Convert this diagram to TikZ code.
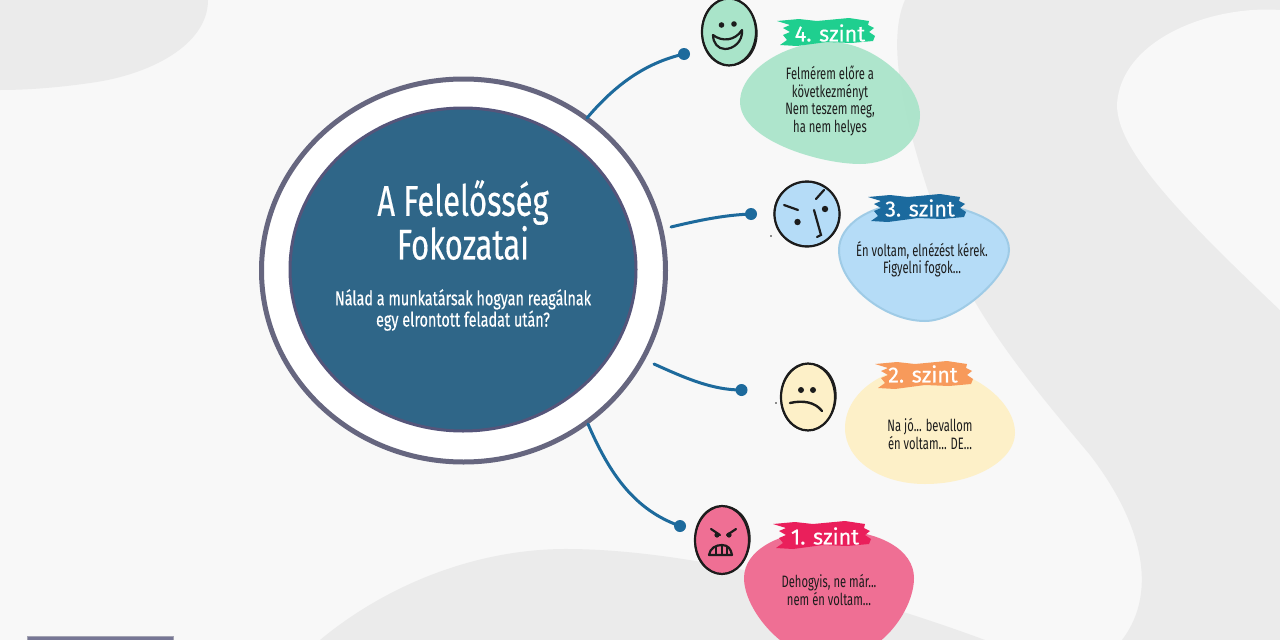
\documentclass[tikz,border=0pt]{standalone}
\usepackage{fontspec}
\usetikzlibrary{shapes.geometric}
\setmainfont{Fira Sans}
\newfontfamily\narrowf[FakeStretch=0.68]{Fira Sans}
\newfontfamily\titlef[FakeStretch=0.72,FakeBold=0.3]{Fira Sans}
\newfontfamily\labelf[FakeStretch=0.98,FakeBold=0.5]{Fira Sans}
\definecolor{bgc}{HTML}{F8F8F8}
\definecolor{blob}{HTML}{EBEBEB}
\definecolor{ringc}{HTML}{66667F}
\definecolor{discc}{HTML}{2F6688}
\definecolor{discl}{HTML}{55557A}
\definecolor{linkc}{HTML}{1D6A9C}
\definecolor{greenb}{HTML}{A9E4C9}
\definecolor{greenl}{HTML}{1FCF8F}
\definecolor{blueb}{HTML}{B5DCF7}
\definecolor{bluee}{HTML}{9FCBE6}
\definecolor{bluel}{HTML}{1B6A9E}
\definecolor{yellb}{HTML}{FDF0C8}
\definecolor{orangel}{HTML}{F79A5B}
\definecolor{pinkb}{HTML}{EF6F94}
\definecolor{redl}{HTML}{EA1F5B}
\definecolor{inkc}{HTML}{1C1C1C}
\tikzset{
  ringshape/.style={draw=ringc,line width=5pt,fill=white,ellipse,minimum width=404pt,minimum height=383pt,inner sep=0pt},
  discshape/.style={draw=discl,line width=3pt,fill=discc,ellipse,minimum width=346pt,minimum height=323pt,inner sep=0pt},
  titletext/.style={text=white,align=center,font=\titlef\fontsize{43}{39}\selectfont},
  subtext/.style={text=white,align=center,font=\titlef\fontsize{20}{18.5}\selectfont},
  bodytext/.style={text=inkc,align=center,font=\narrowf\fontsize{16.5}{17.5}\selectfont},
  leveltext/.style={text=white,font=\labelf\fontsize{22}{24}\selectfont},
  dotnode/.style={circle,fill=linkc,minimum size=12pt,inner sep=0pt},
  linkline/.style={draw=linkc,line width=3pt,line cap=round},
  facenode/.style={draw=inkc,line width=2.2pt,ellipse,inner sep=0pt},
  sketchline/.style={draw=inkc,line width=1.2pt},
  ink/.style={draw=inkc,line width=2.2pt,line cap=round},
}
\newcommand{\brushat}[3]{% x,y (top-left),colour
  \fill[#3,shift={(#1,#2)}] (0,3) -- (22,1) -- (40,3) -- (72,0) -- (92,3) -- (91,7) -- (97,10) -- (92,14) -- (98,18) -- (96,23) -- (74,25) -- (50,24) -- (20,28) -- (3,27) -- (10,22) -- (6,17) -- (13,14) -- (6,10) -- (13,7) -- cycle;}
\begin{document}
\begin{tikzpicture}[x=1pt,y=-1pt]
\useasboundingbox (0,0) rectangle (1280,640);
\clip (0,0) rectangle (1280,640);
\fill[bgc] (0,0) rectangle (1280,640);
% background blobs
\fill[blob] (0,0) -- (208,0) .. controls (208,45) and (150,75) .. (90,83) .. controls (55,88) and (25,90) .. (0,90) -- cycle;
\fill[blob] (905,0) .. controls (885,45) and (905,130) .. (945,240) .. controls (975,320) and (1040,395) .. (1090,455) .. controls (1140,520) and (1160,590) .. (1122,640) -- (1280,640) -- (1280,0) -- cycle;
\fill[bgc] (1280,10) .. controls (1210,5) and (1120,40) .. (1117,105) .. controls (1117,150) and (1180,215) .. (1280,310) -- cycle;
\fill[blob] (320,640) .. controls (380,590) and (470,548) .. (570,549) .. controls (690,550) and (850,590) .. (985,640) -- cycle;
% circle
\node[ringshape] (ring) at (463.5,270.5) {};
\node[discshape] (disc) at (463,269.5) {};
\node[titletext] (title) at (463,220) {A Felelősség\\Fokozatai};
\node[subtext] (sub) at (463,310) {Nálad a munkatársak hogyan reagálnak\\egy elrontott feladat után?};
% bubbles
\fill[greenb,fill opacity=0.93] (740,100) .. controls (742,70) and (785,42) .. (830,42) .. controls (875,42) and (920,85) .. (920,115) .. controls (920,145) and (890,164) .. (860,164) .. controls (820,164) and (738,140) .. (740,100) -- cycle;
\filldraw[fill=blueb,draw=bluee,line width=2pt] (839,250) .. controls (839,225) and (870,203) .. (915,203) .. controls (960,203) and (1009,220) .. (1009,250) .. controls (1009,275) and (960,321) .. (925,321) .. controls (885,321) and (839,285) .. (839,250) -- cycle;
\fill[yellb] (845,428) .. controls (845,395) and (880,367) .. (925,367) .. controls (970,367) and (1015,400) .. (1015,433) .. controls (1015,460) and (975,484) .. (925,484) .. controls (880,484) and (845,460) .. (845,428) -- cycle;
\fill[pinkb] (744,578) .. controls (744,550) and (780,530) .. (830,530) .. controls (880,530) and (914,550) .. (914,578) .. controls (914,610) and (880,660) .. (830,660) .. controls (785,660) and (744,610) .. (744,578) -- cycle;
% brush labels
\brushat{777}{18}{greenl}
\brushat{868}{194}{bluel}
\brushat{875}{361}{orangel}
\brushat{773}{521}{redl}
\node[leveltext] (l4) at (830,33) {4. szint};
\node[leveltext] (l3) at (920,208) {3. szint};
\node[leveltext] (l2) at (923,374) {2. szint};
\node[leveltext] (l1) at (825,536) {1. szint};
% bubble texts
\node[bodytext] (t4) at (830,101) {Felmérem előre a\\következményt\\Nem teszem meg,\\ha nem helyes};
\node[bodytext] (t3) at (922,259) {Én voltam, elnézést kérek.\\Figyelni fogok...};
\node[bodytext] (t2) at (930,434) {Na jó... bevallom\\én voltam... DE...};
\node[bodytext] (t1) at (829,590) {Dehogyis, ne már...\\nem én voltam...};
% faces
\node[facenode,fill=greenb,minimum width=54pt,minimum height=67pt] (f4) at (729,32) {};
\node[facenode,fill=blueb,minimum width=65pt,minimum height=65pt] (f3) at (807,214) {};
\node[facenode,fill=yellb,minimum width=54pt,minimum height=67pt] (f2) at (808,397) {};
\node[facenode,fill=pinkb,minimum width=54pt,minimum height=68pt] (f1) at (722,540) {};
\draw[sketchline] (729.5,32) ellipse [x radius=27.5pt,y radius=33.5pt,rotate=6];
\draw[sketchline] (807,214) ellipse [x radius=33pt,y radius=32pt,rotate=-20];
\draw[sketchline] (808.5,397) ellipse [x radius=27.5pt,y radius=33.5pt,rotate=-6];
\draw[sketchline] (722.5,540) ellipse [x radius=27.5pt,y radius=34pt,rotate=-6];
% face 4 details
\fill[inkc] (721.5,25) circle (2.8pt) (734,24) circle (2.8pt);
\filldraw[draw=inkc,line width=2.2pt,fill=greenb,line join=round] (713,35) .. controls (722,42) and (735,41) .. (742,30) .. controls (743,42) and (733,49) .. (725,49) .. controls (718,49) and (713,43) .. (713,35) -- cycle;
% face 3 details
\draw[ink] (784,205) -- (798,210);
\draw[ink] (816,199) -- (824,190);
\fill[inkc] (797.5,222) circle (3.2pt) (825,209) circle (3.2pt);
\draw[ink] (814,210) -- (821,235) -- (817,237);
\fill[inkc] (771,236) circle (0.8pt);
% face 2 details
\fill[inkc] (801,390) circle (3pt) (813,390) circle (3pt);
\draw[ink,line width=2.4pt] (790,403) .. controls (803,400) and (815,402) .. (822,411);
\fill[inkc] (776,403) circle (0.8pt);
% face 1 details
\draw[ink] (711,529) -- (720,535);
\draw[ink] (736,529) -- (727,535);
\fill[inkc] (717,535) circle (2.6pt) (729,535) circle (2.6pt);
\filldraw[ink,fill=pinkb,line join=round] (709,555) .. controls (710,548) and (716,545) .. (722,545) .. controls (728,545) and (731,549) .. (732,555) -- cycle;
\draw[ink,line width=1.6pt] (716,547) -- (716,555) (722,545) -- (722,555) (727,547) -- (727,555);
% connectors
\node[dotnode] (d4) at (684,54) {};
\node[dotnode] (d3) at (751,214) {};
\node[dotnode] (d2) at (741.5,390) {};
\node[dotnode] (d1) at (680,526) {};
\coordinate (s4) at (587,118);
\coordinate (s3) at (671,227);
\coordinate (s2) at (654,364);
\coordinate (s1) at (588,424);
\draw[linkline] (s4) .. controls (615,85) and (645,63) .. (d4.center);
\draw[linkline] (s3) .. controls (700,220) and (725,215) .. (d3.center);
\draw[linkline] (s2) .. controls (685,378) and (712,390) .. (d2.center);
\draw[linkline] (s1) .. controls (610,475) and (635,510) .. (d1.center);
% bottom-left bar
\filldraw[draw=ringc!60!white,fill=discl!80!white,line width=1pt] (27,636.5) rectangle (173,645);
\end{tikzpicture}
\end{document}
